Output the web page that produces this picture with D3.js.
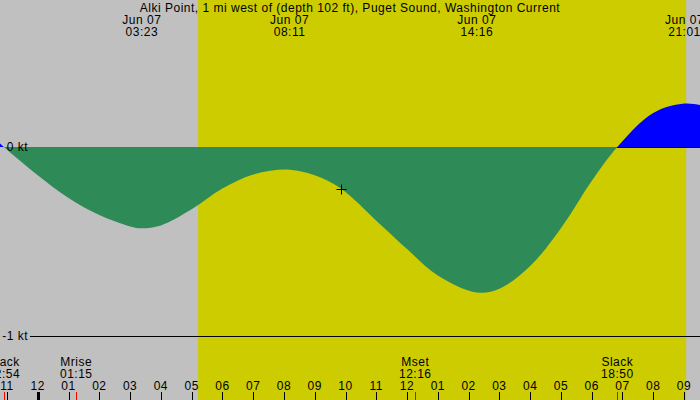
<!DOCTYPE html>
<html>
<head>
<meta charset="utf-8">
<script src="https://cdn.jsdelivr.net/npm/d3@7"></script>
<style>
  body { margin: 0; }
  svg text { font-family: "Liberation Sans", Arial, sans-serif; font-size: 12px; letter-spacing: 0.5px; fill: #000; }
</style>
</head>
<body>
<svg id="chart"></svg>
<script>
const W = 700, H = 400;

const title = "Alki Point, 1 mi west of (depth 102 ft), Puget Sound, Washington Current";

// hours relative to midnight Jun 07
const hourTicks = [-1,0,1,2,3,4,5,6,7,8,9,10,11,12,13,14,15,16,17,18,19,20,21];
const hourLabels = ["11","12","01","02","03","04","05","06","07","08","09","10","11","12","01","02","03","04","05","06","07","08","09"];

const topHours = [3.383, 8.183, 14.267, 21.017];
const topDates = ["Jun 07", "Jun 07", "Jun 07", "Jun 07"];
const topTimes = ["03:23", "08:11", "14:16", "21:01"];

const botHours = [-1.1, 1.25, 12.267, 18.833];
const botNames = ["Slack", "Mrise", "Mset", "Slack"];
const botTimes = ["22:54", "01:15", "12:16", "18:50"];

const sunrise = 5.21, sunset = 21.07;

// current speed (kt)
const curHours = [-1.3, -1.1, 0, 1, 2, 3, 3.383, 4, 5, 6, 7, 8.183, 9, 9.85, 11, 12, 13, 14.267, 15, 16, 17, 18, 18.833, 20, 21.017, 21.6];
const curValues = [0.03, 0, -0.15, -0.27, -0.36, -0.42, -0.43, -0.415, -0.33, -0.22, -0.145, -0.12, -0.15, -0.22, -0.39, -0.54, -0.68, -0.77, -0.75, -0.63, -0.43, -0.18, 0, 0.18, 0.23, 0.22];

const markHour = 9.85, markValue = -0.22;

const x = d3.scaleLinear().domain([-1, 21]).range([7, 684]);
const y = d3.scaleLinear().domain([-1, 0]).range([336, 147]);

const svg = d3.select("#chart").attr("width", W).attr("height", H);

svg.append("rect").attr("width", W).attr("height", H).attr("fill", "#c0c0c0");
svg.append("rect")
  .attr("x", x(sunrise)).attr("y", 0)
  .attr("width", x(sunset) - x(sunrise)).attr("height", H)
  .attr("fill", "#cccc00");

const data = curHours.map((h, i) => ({ h: h, v: curValues[i] }));
const area = d3.area()
  .x(d => x(d.h))
  .y0(y(0))
  .y1(d => y(d.v))
  .curve(d3.curveCatmullRom.alpha(0.5));

const defs = svg.append("defs");
defs.append("clipPath").attr("id", "above")
  .append("rect").attr("x", 0).attr("y", 0).attr("width", W).attr("height", y(0));
defs.append("clipPath").attr("id", "below")
  .append("rect").attr("x", 0).attr("y", y(0)).attr("width", W).attr("height", H - y(0));

svg.append("path").datum(data)
  .attr("d", area).attr("fill", "#0000ff").attr("clip-path", "url(#above)");

// level lines
svg.append("line").attr("x1", 30).attr("x2", W)
  .attr("y1", y(0) + 0.5).attr("y2", y(0) + 0.5).attr("stroke", "#000");
svg.append("line").attr("x1", 30).attr("x2", W)
  .attr("y1", y(-1) + 0.5).attr("y2", y(-1) + 0.5).attr("stroke", "#000");

svg.append("path").datum(data)
  .attr("d", area).attr("fill", "#2e8b57").attr("clip-path", "url(#below)");

svg.append("text").attr("x", 28).attr("y", y(0) + 4).attr("text-anchor", "end").text("0 kt");
svg.append("text").attr("x", 28).attr("y", y(-1) + 4).attr("text-anchor", "end").text("-1 kt");

// marker
const mx = Math.round(x(markHour)) + 0.5, my = Math.round(y(markValue)) + 0.5;
svg.append("path")
  .attr("d", `M${mx - 5},${my}H${mx + 5}M${mx},${my - 5}V${my + 5}`)
  .attr("stroke", "#000").attr("fill", "none");

// title & top labels
svg.append("text").attr("x", W / 2).attr("y", 12).attr("text-anchor", "middle").text(title);
topHours.forEach((h, i) => {
  svg.append("text").attr("x", x(h)).attr("y", 24).attr("text-anchor", "middle").text(topDates[i]);
  svg.append("text").attr("x", x(h)).attr("y", 36).attr("text-anchor", "middle").text(topTimes[i]);
});

// bottom events
botHours.forEach((h, i) => {
  svg.append("text").attr("x", x(h)).attr("y", 366).attr("text-anchor", "middle").text(botNames[i]);
  svg.append("text").attr("x", x(h)).attr("y", 378).attr("text-anchor", "middle").text(botTimes[i]);
  svg.append("line")
    .attr("x1", Math.round(x(h)) + 0.5).attr("x2", Math.round(x(h)) + 0.5)
    .attr("y1", 392).attr("y2", H).attr("stroke", "#ff0000");
});

// hour axis
hourTicks.forEach((h, i) => {
  const px = Math.round(x(h)) + 0.5;
  svg.append("line").attr("x1", px).attr("x2", px)
    .attr("y1", 392).attr("y2", H)
    .attr("stroke", "#000").attr("stroke-width", h === 0 ? 3 : 1);
  svg.append("text").attr("x", x(h)).attr("y", 390).attr("text-anchor", "middle").text(hourLabels[i]);
});
</script>
</body>
</html>
